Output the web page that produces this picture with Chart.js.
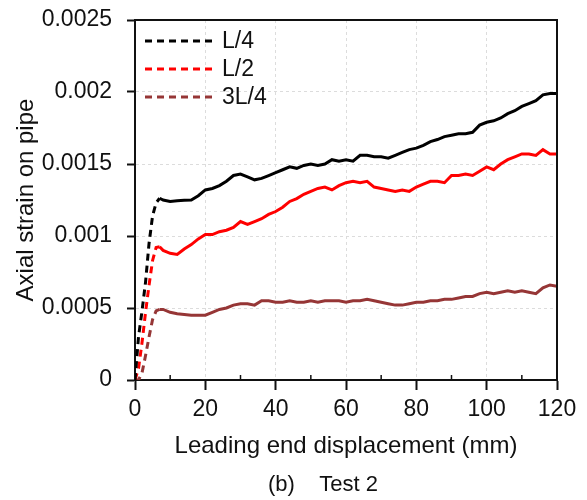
<!DOCTYPE html>
<html>
<head>
<meta charset="utf-8">
<script src="https://cdn.jsdelivr.net/npm/chart.js@4.4.1/dist/chart.umd.min.js"></script>
<style>
  html, body { margin: 0; padding: 0; background: #fff; }
  #wrap { width: 587px; height: 500px; }
</style>
</head>
<body>
<div id="wrap"><canvas id="chart" width="587" height="500"></canvas></div>
<script>
'use strict';

/* ------------------------------------------------------------
   Data (Test 2)
   displacement in mm, strain dimensionless
------------------------------------------------------------ */
const displacement = [
  0, 1, 2, 3, 4, 5, 6, 7, 8, 10, 12, 14, 16, 18, 20, 22, 24, 26, 28, 30,
  32, 34, 36, 38, 40, 42, 44, 46, 48, 50, 52, 54, 56, 58, 60, 62, 64, 66, 68, 70,
  72, 74, 76, 78, 80, 82, 84, 86, 88, 90, 92, 94, 96, 98, 100, 102, 104, 106, 108, 110,
  112, 114, 116, 118, 120
];

const strainL4 = [
  0, 0.0003, 0.00048, 0.00068, 0.00095, 0.00114, 0.00123, 0.001262, 0.00125, 0.00124,
  0.001245, 0.001248, 0.00125, 0.00128, 0.00132, 0.00133, 0.00135, 0.00138, 0.00142, 0.00143,
  0.00141, 0.00139, 0.0014, 0.00142, 0.00144, 0.00146, 0.00148, 0.00147, 0.00149, 0.0015,
  0.00149, 0.0015, 0.00153, 0.00152, 0.00153, 0.00152, 0.00156, 0.00156, 0.00155, 0.00155,
  0.00154, 0.00156, 0.00158, 0.0016, 0.00161, 0.00163, 0.001655, 0.00167, 0.00169, 0.0017,
  0.00171, 0.00171, 0.00172, 0.00177, 0.00179, 0.0018, 0.00182, 0.00185, 0.00187, 0.0019,
  0.00192, 0.00194, 0.00198, 0.00199, 0.00199
];

const strainL2 = [
  0, 0.00008, 0.00026, 0.00047, 0.00066, 0.00083, 0.00092, 0.000925, 0.0009, 0.00088,
  0.000872, 0.00091, 0.00094, 0.00098, 0.00101, 0.00101, 0.00103, 0.00104, 0.00106, 0.0011,
  0.00108, 0.0011, 0.00112, 0.00115, 0.00117, 0.0012, 0.00124, 0.00126, 0.00129, 0.00131,
  0.00133, 0.00134, 0.00132, 0.00135, 0.00137, 0.00138, 0.00137, 0.00138, 0.00134, 0.00133,
  0.00132, 0.00131, 0.00132, 0.00131, 0.00134, 0.00136, 0.00138, 0.00138, 0.00137, 0.00142,
  0.00142, 0.00143, 0.00142, 0.00145, 0.00148, 0.00146, 0.0015, 0.00153, 0.00155, 0.00157,
  0.00157, 0.00156, 0.0016, 0.00157, 0.00157
];

const strain3L4 = [
  0, 0, 0.00005, 0.00017, 0.0003, 0.00042, 0.00048, 0.00049, 0.00049, 0.00047,
  0.00046, 0.000455, 0.00045, 0.00045, 0.00045, 0.00047, 0.00049, 0.0005, 0.00052, 0.00053,
  0.00053, 0.00052, 0.00055, 0.00055, 0.00054, 0.00054, 0.00055, 0.00054, 0.00054, 0.00055,
  0.00054, 0.00055, 0.00055, 0.00055, 0.00054, 0.00055, 0.00055, 0.00056, 0.00055, 0.00054,
  0.00053, 0.00052, 0.00052, 0.00053, 0.00054, 0.00054, 0.00055, 0.00055, 0.00056, 0.00056,
  0.00057, 0.00058, 0.00058, 0.0006, 0.00061, 0.0006, 0.00061, 0.00062, 0.00061, 0.00062,
  0.00061, 0.0006, 0.00064, 0.00066, 0.00065
];

const seriesNames  = ['L/4', 'L/2', '3L/4'];
const seriesColors = ['#000000', '#ff0000', '#963636'];

/* axis ranges */
const X_MIN = 0, X_MAX = 120, X_MAJOR = 20, X_MINOR = 10;
const Y_MIN = 0, Y_MAX = 0.0025, Y_STEP = 0.0005;

/* styles */
const FONT   = "'Liberation Sans', Arial, sans-serif";
const INK    = '#111111';
const GRID   = '#dcdcdc';
const DASH   = [7, 5];
const RISE_END = 7;   // dashed look on the steep start of each curve

Chart.defaults.font.family = FONT;
Chart.defaults.color = INK;

function toPoints(values) {
  return displacement.map((x, i) => ({ x: x, y: values[i] }));
}

const datasets = [strainL4, strainL2, strain3L4].map((values, i) => ({
  label:       seriesNames[i],
  data:        toPoints(values),
  borderColor: seriesColors[i],
  borderWidth: 3,
  pointRadius: 0,
  tension:     0,
  fill:        false,
  segment: {
    borderDash: ctx => (ctx.p1.parsed.x <= RISE_END ? DASH : undefined),
  },
}));

/* ------------------------------------------------------------
   extra drawing: box frame, inner minor ticks, legend, caption
------------------------------------------------------------ */
const figureExtras = {
  id: 'figureExtras',
  afterDraw(chart) {
    const { ctx, chartArea: a, scales } = chart;
    ctx.save();

    // top / right frame
    ctx.strokeStyle = INK;
    ctx.lineWidth = 2;
    ctx.setLineDash([]);
    ctx.beginPath();
    ctx.moveTo(a.left, a.top);
    ctx.lineTo(a.right, a.top);
    ctx.lineTo(a.right, a.bottom);
    ctx.stroke();

    // minor x ticks, pointing inward
    ctx.lineWidth = 1.5;
    for (let v = X_MINOR; v < X_MAX; v += X_MAJOR) {
      const px = scales.x.getPixelForValue(v);
      ctx.beginPath();
      ctx.moveTo(px, a.bottom);
      ctx.lineTo(px, a.bottom - 5);
      ctx.stroke();
    }

    // legend inside plot, top-left
    ctx.font = '23px ' + FONT;
    ctx.textAlign = 'left';
    ctx.textBaseline = 'middle';
    chart.data.datasets.forEach((ds, i) => {
      const y = 41 + i * 28;
      ctx.strokeStyle = ds.borderColor;
      ctx.lineWidth = 3;
      ctx.setLineDash(DASH);
      ctx.beginPath();
      ctx.moveTo(145, y);
      ctx.lineTo(213, y);
      ctx.stroke();
      ctx.fillStyle = INK;
      ctx.fillText(ds.label, 222, y + 1);
    });

    // caption under the axis title
    ctx.setLineDash([]);
    ctx.font = '22px ' + FONT;
    ctx.fillStyle = INK;
    ctx.fillText('(b)    Test 2', 268, 485);

    ctx.restore();
  },
};

new Chart(document.getElementById('chart'), {
  type: 'line',
  data: { datasets: datasets },
  options: {
    responsive: false,
    animation: false,
    layout: { padding: { top: 20, right: 30, bottom: 0, left: 0 } },
    plugins: {
      legend:  { display: false },
      tooltip: { enabled: false },
    },
    scales: {
      x: {
        type: 'linear',
        min: X_MIN,
        max: X_MAX,
        ticks: {
          stepSize: X_MINOR,
          autoSkip: false,
          maxRotation: 0,
          padding: 6,
          color: INK,
          font: { size: 23 },
          callback: v => (v % X_MAJOR === 0 ? String(v) : ''),
        },
        grid: {
          color: c => (c.tick && c.tick.value % X_MAJOR === 0 && c.tick.value > X_MIN && c.tick.value < X_MAX) ? GRID : 'rgba(0,0,0,0)',
          tickColor: c => (c.tick && c.tick.value % X_MAJOR === 0) ? INK : 'rgba(0,0,0,0)',
          lineWidth: 1,
          tickLength: 10,
          tickWidth: 2,
        },
        border: { display: true, color: INK, width: 2, dash: [3, 3] },
        title: {
          display: true,
          text: 'Leading end displacement (mm)',
          color: INK,
          font: { size: 24 },
          padding: { top: 0, bottom: 39 },
        },
        afterFit: s => { s.height = 120; s.paddingLeft = 0; s.paddingRight = 0; },
      },
      y: {
        min: Y_MIN,
        max: Y_MAX,
        ticks: {
          stepSize: Y_STEP,
          padding: 15,
          color: INK,
          font: { size: 23 },
          callback: v => String(+v.toFixed(4)),
        },
        grid: {
          color: c => (c.tick && c.tick.value > 1e-9 && c.tick.value < Y_MAX - 1e-9) ? GRID : 'rgba(0,0,0,0)',
          tickColor: INK,
          lineWidth: 1,
          tickLength: 8,
          tickWidth: 2,
        },
        border: { display: true, color: INK, width: 2, dash: [3, 3] },
        title: {
          display: true,
          text: 'Axial strain on pipe',
          color: INK,
          font: { size: 24 },
          padding: { top: 12, bottom: 0 },
        },
        afterFit: s => { s.width = 135; s.paddingTop = 0; s.paddingBottom = 0; },
      },
    },
  },
  plugins: [figureExtras],
});
</script>
</body>
</html>
